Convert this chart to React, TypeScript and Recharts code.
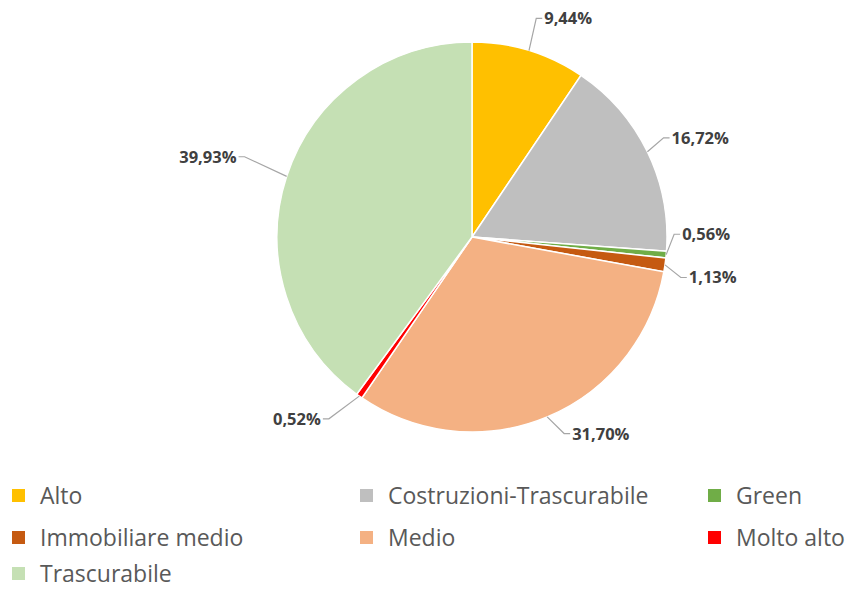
import { PieChart, Pie, Cell, Legend } from "recharts";

const categories = ["Alto", "Costruzioni-Trascurabile", "Green", "Immobiliare medio", "Medio", "Molto alto", "Trascurabile"];
const shares = [9.44, 16.72, 0.56, 1.13, 31.7, 0.52, 39.93];
const colors = ["#FFC000", "#BFBFBF", "#70AD47", "#C55A11", "#F4B183", "#FF0000", "#C5E0B4"];

// label nudges (px) so the small slices don't collide
const labelNudge = [
  { dx: 2, dy: -15 },
  { dx: 0, dy: -6 },
  { dx: -10, dy: -22 },
  { dx: -2, dy: 10 },
  { dx: 10, dy: 0 },
  { dx: -20, dy: 8 },
  { dx: -25, dy: -14 },
];

const data = categories.map((name, i) => ({ name, value: shares[i] }));

const RAD = Math.PI / 180;

function renderLabel(props: any) {
  const { cx, cy, outerRadius, midAngle, index, value } = props;
  const cos = Math.cos(-midAngle * RAD);
  const sin = Math.sin(-midAngle * RAD);
  const x0 = cx + outerRadius * cos;
  const y0 = cy + outerRadius * sin;
  const n = labelNudge[index];
  const x1 = cx + (outerRadius + 18) * cos + n.dx;
  const y1 = cy + (outerRadius + 18) * sin + n.dy;
  const right = cos >= 0;
  const x2 = x1 + (right ? 6 : -6);
  const txt = value.toFixed(2).replace(".", ",") + "%";
  return (
    <g>
      <polyline points={`${x0},${y0} ${x1},${y1} ${x2},${y1}`} fill="none" stroke="#A6A6A6" strokeWidth={1.2} />
      <text x={x2 + (right ? 2 : -2)} y={y1} dy={6} textAnchor={right ? "start" : "end"} fontSize={16.5} fontWeight="bold" fill="#404040" fontFamily="'Open Sans', sans-serif">
        {txt}
      </text>
    </g>
  );
}

const renderLegend = () => (
  <div style={{ display: "grid", gridTemplateColumns: "348px 348px 163px", gridTemplateRows: "42px 42px 26px", fontFamily: "'Open Sans', sans-serif", fontSize: 23, color: "#595959", whiteSpace: "nowrap" }}>
    {categories.map((c, i) => (
      <div key={c} style={{ display: "flex", alignItems: i >= 6 ? "flex-end" : "center", paddingLeft: 12 }}>
        <span style={{ display: "flex", alignItems: "center", height: 22 }}>
          <span style={{ width: 13, height: 13, background: colors[i], display: "inline-block", marginRight: 15, flexShrink: 0 }} />
          <span style={{ lineHeight: "22px" }}>{c}</span>
        </span>
      </div>
    ))}
  </div>
);

export default function App() {
  return (
    <div style={{ position: "fixed", left: 0, top: 0, background: "#fff" }}>
      <PieChart width={859} height={592} margin={{ top: 0, right: 0, bottom: 0, left: 0 }}>
        <Pie data={data} dataKey="value" nameKey="name" cx={472} cy={237} outerRadius={195} startAngle={90} endAngle={-270} stroke="#fff" strokeWidth={1.5} label={renderLabel} labelLine={false} isAnimationActive={false}>
          {data.map((d, i) => (
            <Cell key={d.name} fill={colors[i]} />
          ))}
        </Pie>
        <Legend content={renderLegend} wrapperStyle={{ position: "absolute", top: 474, left: 0, width: 859 }} />
      </PieChart>
    </div>
  );
}
